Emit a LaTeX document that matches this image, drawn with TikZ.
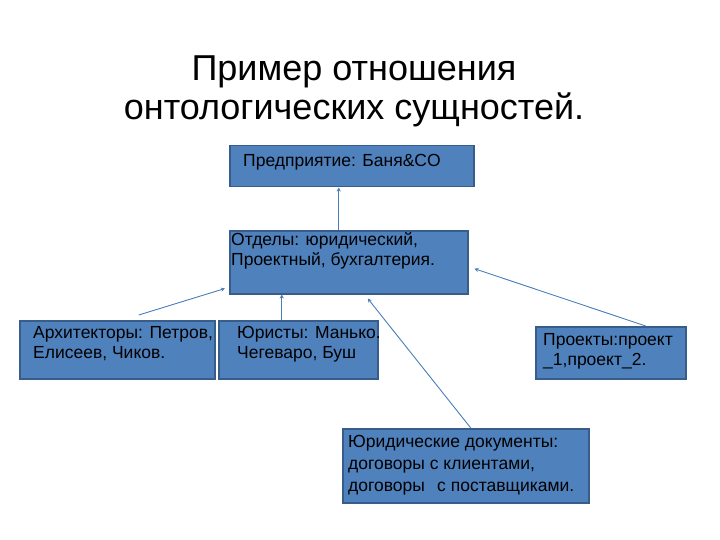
\documentclass[tikz,border=0pt]{standalone}
\usepackage{fontspec}
\setmainfont{Liberation Sans}
\usetikzlibrary{arrows.meta}
\definecolor{boxfill}{HTML}{4F81BD}
\definecolor{boxline}{HTML}{385D8A}
\definecolor{connc}{HTML}{4A7EBB}
\tikzset{
  box/.style={draw=boxline, line width=1.5pt, fill=boxfill, rectangle, inner sep=0pt, anchor=north west},
  txt/.style={anchor=north west, inner sep=0pt, align=left, font=\fontsize{17.5}{20.5}\selectfont, text=black},
  conn/.style={draw=connc, line width=0.9pt, -{Stealth[length=4pt,width=4pt]}},
  ttl/.style={align=center, font=\fontsize{36}{39}\selectfont, text=black, inner sep=0pt}
}
\begin{document}
\begin{tikzpicture}[x=1pt,y=-1pt]
\useasboundingbox[fill=white] (0,0) rectangle (720,540);
\node[ttl] (title) at (354,91) {Пример отношения\\онтологических сущностей.};

\node[box, minimum width=244pt, minimum height=41pt] (pre) at (229,145) {};
\node[txt] (preT) at (243,154) {Предприятие: Баня\&CO};

\node[box, minimum width=238pt, minimum height=63pt] (otd) at (229,230) {};
\node[txt] (otdT) at (231,232) {Отделы: юридический,\\Проектный, бухгалтерия.};

\node[box, minimum width=195pt, minimum height=58pt] (arch) at (19,320) {};
\node[txt] (archT) at (33,326) {Архитекторы: Петров,\\Елисеев, Чиков.};

\node[box, minimum width=159pt, minimum height=58pt] (jur) at (218,320) {};
\node[txt] (jurT) at (237,326) {Юристы: Манько.\\Чегеваро, Буш};

\node[box, minimum width=150pt, minimum height=52pt] (proj) at (535,326) {};
\node[txt] (projT) at (543,333) {Проекты:проект\\\_1,проект\_2.};

\node[box, minimum width=246pt, minimum height=74pt] (doc) at (342,428) {};
\node[txt, font=\fontsize{17.5}{22}\selectfont] (docT) at (348,435) {Юридические документы:\\договоры с клиентами,\\договоры\hspace{0.7em}с поставщиками.};

\draw[conn] ([xshift=-10pt]otd.north) -- ([xshift=-10pt]otd.north |- pre.south);
\draw[conn] ([xshift=21.5pt,yshift=5pt]arch.north) -- ([xshift=-4pt,yshift=6pt]otd.south west);
\draw[conn] ([xshift=-16.5pt]jur.north) -- ([xshift=-16.5pt]jur.north |- otd.south);
\draw[conn] ([xshift=35pt]proj.north) -- ([xshift=6pt,yshift=-6.5pt]otd.east);
\draw[conn] ([xshift=5pt]doc.north) -- ([xshift=19pt,yshift=-4pt]otd.south);
\end{tikzpicture}
\end{document}
